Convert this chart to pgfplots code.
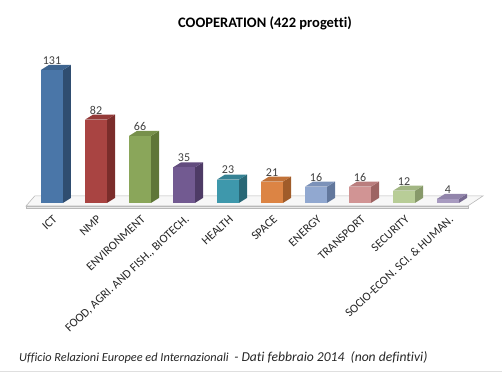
\documentclass[border=0pt]{standalone}
\usepackage{pgfplots}
\pgfplotsset{compat=1.18}
\usepackage{fontspec}
\setmainfont{Carlito}[Ligatures=NoCommon]
\definecolor{f1}{HTML}{4A76A8}\definecolor{s1}{HTML}{2F4D70}
\definecolor{f2}{HTML}{A94442}\definecolor{s2}{HTML}{7B2D2B}
\definecolor{f3}{HTML}{8AA65A}\definecolor{s3}{HTML}{5F7638}
\definecolor{f4}{HTML}{725A91}\definecolor{s4}{HTML}{4E3B66}
\definecolor{f5}{HTML}{3E98AC}\definecolor{s5}{HTML}{296876}
\definecolor{f6}{HTML}{DC8444}\definecolor{s6}{HTML}{A05C2A}
\definecolor{f7}{HTML}{91A8D0}\definecolor{s7}{HTML}{62779C}
\definecolor{f8}{HTML}{D19494}\definecolor{s8}{HTML}{9D6463}
\definecolor{f9}{HTML}{B8CD97}\definecolor{s9}{HTML}{87996A}
\definecolor{f10}{HTML}{A89BC0}\definecolor{s10}{HTML}{776A91}
\definecolor{txt}{HTML}{262626}
\definecolor{lbl}{HTML}{404040}
\newcommand{\cbar}[3]{%
  \pgfmathsetmacro\xa{#2-0.25}\pgfmathsetmacro\xb{#2+0.25}%
  \pgfmathsetmacro\xc{#2+0.4318}\pgfmathsetmacro\xd{#2-0.0682}%
  \pgfmathsetmacro\yt{#3+4.93}%
  \addplot[fill=s#1, draw=none] coordinates {(\xb,0) (\xb,#3) (\xc,\yt) (\xc,4.93)} -- cycle;
  \addplot[fill=f#1!55!s#1, draw=none] coordinates {(\xa,#3) (\xb,#3) (\xc,\yt) (\xd,\yt)} -- cycle;
  \addplot[ybar, bar width=22bp, bar shift=0bp, fill=f#1, draw=none,
    nodes near coords, nodes near coords style={font=\fontsize{12bp}{14bp}\selectfont, text=lbl, anchor=south, yshift=2bp}] coordinates {(#2,#3)};
}
\begin{document}
\begin{tikzpicture}
\path[use as bounding box] (0,0) rectangle (502bp,372bp);
\begin{axis}[
  at={(25.6bp,164bp)}, anchor=south west,
  scale only axis, width=457.6bp, height=147.2bp,
  xmin=-0.6, xmax=9.8, ymin=-5, ymax=140,
  axis line style={draw=none}, major tick length=0pt,
  /pgf/number format/assume math mode=true,
  ytick=\empty,
  xtick={0,...,9},
  xticklabels={ICT,NMP,ENVIRONMENT,{FOOD, AGRI. AND FISH., BIOTECH.},HEALTH,SPACE,ENERGY,TRANSPORT,SECURITY,{SOCIO-ECON. SCI. \& HUMAN.}},
  xticklabel style={rotate=43, anchor=north east, inner sep=1bp, text=txt, font=\fontsize{12bp}{14bp}\selectfont, xshift=-3bp, yshift=-4bp},
  clip=false,
]
\addplot[fill=gray!6, draw=gray!55, line width=0.6bp] coordinates {(-0.59,-3) (9.45,-3) (9.8,7) (-0.39,7)} -- cycle;
\addplot[fill=gray!18, draw=gray!55, line width=0.6bp] coordinates {(-0.59,-3) (9.45,-3) (9.45,-5) (-0.59,-5)} -- cycle;
\cbar{1}{0}{131}
\cbar{2}{1}{82}
\cbar{3}{2}{66}
\cbar{4}{3}{35}
\cbar{5}{4}{23}
\cbar{6}{5}{21}
\cbar{7}{6}{16}
\cbar{8}{7}{16}
\cbar{9}{8}{12}
\cbar{10}{9}{4}
\end{axis}
\node[font=\bfseries\fontsize{14.5bp}{16bp}\selectfont, text=black] at (265bp,349bp) {COOPERATION (422 progetti)};
\node[anchor=base west, inner sep=0pt, font=\itshape\fontsize{12.3bp}{14bp}\selectfont, text=txt] at (19bp,11bp) {Ufficio Relazioni Europee ed Internazionali\ \ {\fontsize{13.6bp}{16bp}\selectfont - Dati febbraio 2014\ \ (non defintivi)}};
\draw[gray!25, line width=1bp] (0,0.5bp) -- (502bp,0.5bp);
\end{tikzpicture}
\end{document}
